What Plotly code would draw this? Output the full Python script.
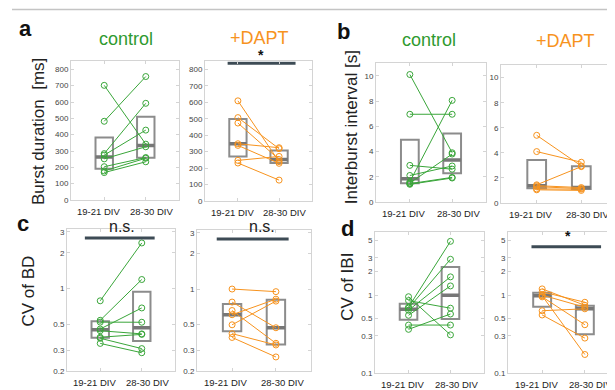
import numpy as np
import plotly.graph_objects as go

# ---------------- data ----------------
categories = ["19-21 DIV", "28-30 DIV"]

bd_ctrl_early = [702, 482, 284, 275, 252, 204, 178, 168]
bd_ctrl_late = [342, 756, 592, 428, 326, 260, 256, 234]
bd_dapt_early = [609, 507, 474, 348, 338, 247, 231]
bd_dapt_late = [239, 318, 252, 324, 229, 271, 127]

ibi_ctrl_early = [10.1, 6.95, 2.9, 2.1, 1.6, 1.5, 1.45, 1.4]
ibi_ctrl_late = [3.9, 6.95, 2.6, 2.85, 8.05, 3.8, 1.95, 1.9]
ibi_dapt_early = [5.4, 4.1, 1.45, 1.38, 1.3, 1.12, 1.05]
ibi_dapt_late = [2.95, 3.25, 2.9, 1.23, 1.15, 1.1, 1.0]

cvbd_ctrl_early = [0.787, 0.539, 0.52, 0.455, 0.44, 0.388, 0.38, 0.344]
cvbd_ctrl_late = [2.42, 1.19, 0.519, 0.685, 0.414, 0.41, 0.311, 0.287]
cvbd_dapt_early = [1.0, 0.775, 0.657, 0.605, 0.497, 0.418, 0.388]
cvbd_dapt_late = [0.95, 0.469, 0.346, 0.82, 0.79, 0.335, 0.265]

cvibi_ctrl_early = [0.953, 0.85, 0.7, 0.68, 0.64, 0.552, 0.414, 0.365]
cvibi_ctrl_late = [0.31, 0.68, 4.87, 2.87, 1.71, 1.31, 0.414, 0.573]
cvibi_dapt_early = [1.2, 1.1, 1.0, 0.98, 0.95, 0.631, 0.557]
cvibi_dapt_late = [0.74, 0.81, 0.7, 0.174, 0.418, 0.668, 0.282]

bd_ticks = [0, 100, 200, 300, 400, 500, 600, 700, 800]
ibi_ticks = [0, 2, 4, 6, 8, 10]
cvbd_ticks = [0.2, 0.3, 0.5, 1, 2, 3]
cvibi_ticks = [0.1, 0.3, 0.5, 1, 2, 3, 5]

# ---------------- style ----------------
W, H = 615, 390
GREEN = "#3aa63a"
GREEN_T = "#2f9a2f"
ORANGE = "#f7931e"
BOXC = "#8c8c8c"
MEDC = "#777777"
BARC = "#3d4b55"
FRAME = "#d4d4d4"
FONT = "Liberation Sans, Arial, sans-serif"
LABEL_X = [0.86, 2.14]  # label anchor offsets (style), beside category ticks


def fx(x):
    return x / W


def fy(y):
    return 1 - y / H


panels = [
    # early, late, color, (x0,x1,y0,y1) px, yaxis type, range, ticks
    (bd_ctrl_early, bd_ctrl_late, GREEN, (63, 171, 53, 194), "linear", [0, 850], bd_ticks),
    (bd_dapt_early, bd_dapt_late, ORANGE, (197, 304, 53, 195), "linear", [0, 850], bd_ticks),
    (ibi_ctrl_early, ibi_ctrl_late, GREEN, (368, 478, 55, 196), "linear", [0, 11], ibi_ticks),
    (ibi_dapt_early, ibi_dapt_late, ORANGE, (493, 609, 57, 197), "linear", [0, 11], ibi_ticks),
    (cvbd_ctrl_early, cvbd_ctrl_late, GREEN, (59, 167, 223, 368), "log",
     [np.log10(0.2), np.log10(3.2)], cvbd_ticks),
    (cvbd_dapt_early, cvbd_dapt_late, ORANGE, (189, 303, 224, 368), "log",
     [np.log10(0.2), np.log10(3.2)], cvbd_ticks),
    (cvibi_ctrl_early, cvibi_ctrl_late, GREEN, (367, 476, 226, 370), "log",
     [-1, np.log10(6.5)], cvibi_ticks),
    (cvibi_dapt_early, cvibi_dapt_late, ORANGE, (500, 611, 226, 370), "log",
     [-1, np.log10(6.5)], cvibi_ticks),
]

fig = go.Figure()
layout = {}
annotations = []
xpos = [1, 2]

for i, (early, late, col, box, ytype, yr, ticks) in enumerate(panels):
    n = i + 1
    xa = "x" if n == 1 else f"x{n}"
    ya = "y" if n == 1 else f"y{n}"
    x0, x1, y0, y1 = box
    layout["xaxis" if n == 1 else f"xaxis{n}"] = dict(
        domain=[fx(x0), fx(x1)], anchor=ya, range=[0.2, 2.8],
        tickvals=xpos, showticklabels=False, showline=True,
        linecolor=FRAME, linewidth=1, mirror="allticks", ticks="inside", ticklen=3,
        tickcolor=FRAME, showgrid=False, zeroline=False, fixedrange=True,
    )
    ytext = [("%g" % t) for t in ticks]
    layout["yaxis" if n == 1 else f"yaxis{n}"] = dict(
        domain=[fy(y1), fy(y0)], anchor=xa, type=ytype, range=yr,
        tickvals=ticks, ticktext=ytext, showline=True, linecolor=FRAME, linewidth=1,
        mirror="allticks", ticks="inside", ticklen=3, tickcolor=FRAME,
        showgrid=False, zeroline=False, tickfont=dict(size=8, color="#444", family=FONT),
        fixedrange=True,
    )
    # category labels under the axis
    for lx, cat in zip(LABEL_X, categories):
        annotations.append(dict(
            text=cat, x=lx, xref=xa, y=fy(y1 + 4), yref="paper", yanchor="top",
            xanchor="center", showarrow=False,
            font=dict(size=9.5, color="#222", family=FONT),
        ))
    # quartiles (MATLAB prctile == hazen)
    q1 = [np.percentile(v, 25, method="hazen") for v in (early, late)]
    md = [np.percentile(v, 50, method="hazen") for v in (early, late)]
    q3 = [np.percentile(v, 75, method="hazen") for v in (early, late)]
    fig.add_trace(go.Box(
        x=xpos, q1=q1, median=md, q3=q3, lowerfence=q1, upperfence=q3,
        width=0.42, line=dict(color=BOXC, width=2), fillcolor="rgba(0,0,0,0)",
        boxpoints=False, xaxis=xa, yaxis=ya, showlegend=False, hoverinfo="skip",
    ))
    fig.add_trace(go.Box(
        x=xpos, q1=md, median=md, q3=md, lowerfence=md, upperfence=md,
        width=0.42, line=dict(color=MEDC, width=3.5), fillcolor="rgba(0,0,0,0)",
        boxpoints=False, xaxis=xa, yaxis=ya, showlegend=False, hoverinfo="skip",
    ))
    xs, ys = [], []
    for a, b in zip(early, late):
        xs += [1, 2, None]
        ys += [a, b, None]
    fig.add_trace(go.Scatter(
        x=xs, y=ys, mode="lines+markers", line=dict(color=col, width=1),
        marker=dict(symbol="circle-open", size=6, color=col, line=dict(width=1)),
        xaxis=xa, yaxis=ya, showlegend=False, hoverinfo="skip",
    ))

# significance bars (panel index, x extent, y value)
sig = [
    (2, [0.75, 2.4], 838),
    (5, [0.63, 2.31], 2.66),
    (6, [0.65, 2.29], 2.66),
    (8, [0.75, 2.38], 4.15),
]
for n, xe, yv in sig:
    fig.add_trace(go.Scatter(
        x=xe, y=[yv, yv], mode="lines", line=dict(color=BARC, width=3),
        xaxis=f"x{n}", yaxis=f"y{n}", showlegend=False, hoverinfo="skip",
        cliponaxis=False,
    ))


def ann(text, x, y, size, color="#111", bold=False, angle=0):
    annotations.append(dict(
        text=f"<b>{text}</b>" if bold else text, x=fx(x), y=fy(y), xref="paper",
        yref="paper", showarrow=False, textangle=angle,
        font=dict(size=size, color=color, family=FONT), xanchor="center",
        yanchor="middle",
    ))


ann("control", 118, 30, 18, GREEN_T)
ann("+DAPT", 252, 29, 18, ORANGE)
ann("control", 421, 31, 18, GREEN_T)
ann("+DAPT", 557, 32, 18, ORANGE)
ann("a", 17, 20, 22, "#111", True)
ann("b", 335, 23, 22, "#111", True)
ann("c", 15, 218, 22, "#111", True)
ann("d", 339, 223, 22, "#111", True)
ann("Burst duration  [ms]", 30, 125, 17, "#222", angle=-90)
ann("Interburst interval [s]", 343, 120, 17, "#222", angle=-90)
ann("CV of BD", 21, 287, 17, "#222", angle=-90)
ann("CV of IBI", 340, 282, 17, "#222", angle=-90)

# significance labels
ann("*", 253, 47, 14, "#111", True)
ann("n.s.", 114, 221, 16, "#222")
ann("n.s.", 254, 221, 16, "#222")
ann("*", 560, 231, 14, "#111", True)

layout.update(
    width=W, height=H, margin=dict(l=0, r=0, t=0, b=0),
    paper_bgcolor="white", plot_bgcolor="white",
    annotations=annotations, showlegend=False,
    shapes=[dict(type="line", xref="paper", yref="paper", x0=fx(4), x1=1,
                 y0=fy(0.5), y1=fy(0.5), line=dict(color="#c4c4c4", width=1.5))],
    font=dict(family=FONT),
)
fig.update_layout(**layout)
fig.write_html("out.html")
